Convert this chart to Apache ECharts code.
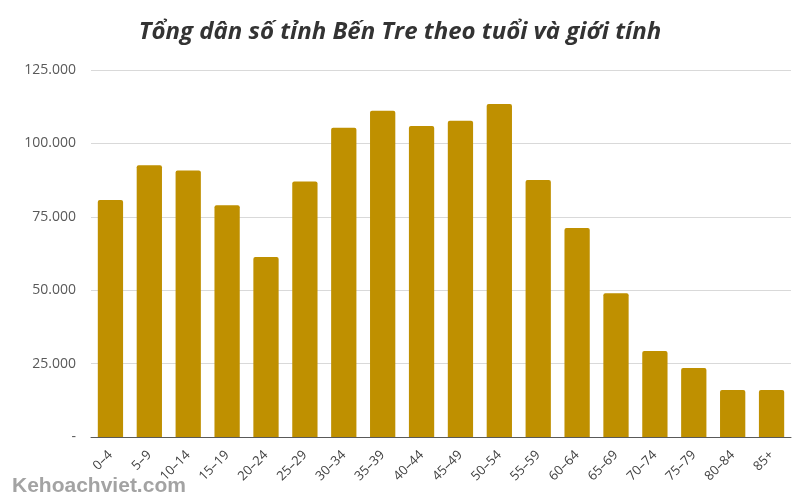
<!DOCTYPE html>
<html>
<head>
<meta charset="utf-8">
<script src="https://cdn.jsdelivr.net/npm/echarts@6/dist/echarts.min.js"></script>
<style>
html,body{margin:0;padding:0;background:#fff;}
#chart{width:800px;height:500px;}
</style>
</head>
<body>
<div id="chart"></div>
<script>
const titleText = "Tổng dân số tỉnh Bến Tre theo tuổi và giới tính";
const categories = ["0–4","5–9","10–14","15–19","20–24","25–29","30–34","35–39","40–44","45–49","50–54","55–59","60–64","65–69","70–74","75–79","80–84","85+"];
const population = [80700,92600,90800,78900,61300,87000,105300,111100,105900,107700,113400,87500,71200,49000,29300,23500,16000,16000];
const yTicks = [0,25000,50000,75000,100000,125000];

const chart = echarts.init(document.getElementById('chart'));
chart.setOption({
  animation:false,
  backgroundColor:'#ffffff',
  title:{
    text:titleText,
    left:'center',
    top:15,
    textStyle:{fontFamily:'Open Sans',fontStyle:'italic',fontWeight:'bold',fontSize:24,color:'#333333'}
  },
  graphic:[{
    type:'text',left:12,bottom:3,
    style:{text:'Kehoachviet.com',font:'bold 21px "Liberation Sans", Arial',fill:'#a3a3a3'}
  }],
  grid:{left:91,right:9,top:70,bottom:63},
  xAxis:{
    type:'category',
    data:categories,
    axisLine:{lineStyle:{color:'#595959',width:1}},
    axisTick:{show:false},
    axisLabel:{rotate:45,margin:16,fontFamily:'Open Sans',fontSize:13,color:'#404040',interval:0}
  },
  yAxis:{
    type:'value',
    min:yTicks[0],max:yTicks[yTicks.length-1],interval:25000,
    axisLine:{show:false},axisTick:{show:false},
    splitLine:{lineStyle:{color:'#d9d9d9',width:1}},
    axisLabel:{
      margin:15,fontFamily:'Open Sans',fontSize:14,color:'#595959',
      formatter:function(v){ if(v===0) return '-'; return String(v).replace(/\B(?=(\d{3})+(?!\d))/g,'.'); }
    }
  },
  series:[{
    type:'bar',
    data:population,
    barCategoryGap:'35%',
    itemStyle:{color:'#bf9000',borderRadius:[2,2,0,0]}
  }]
});
</script>
</body>
</html>
